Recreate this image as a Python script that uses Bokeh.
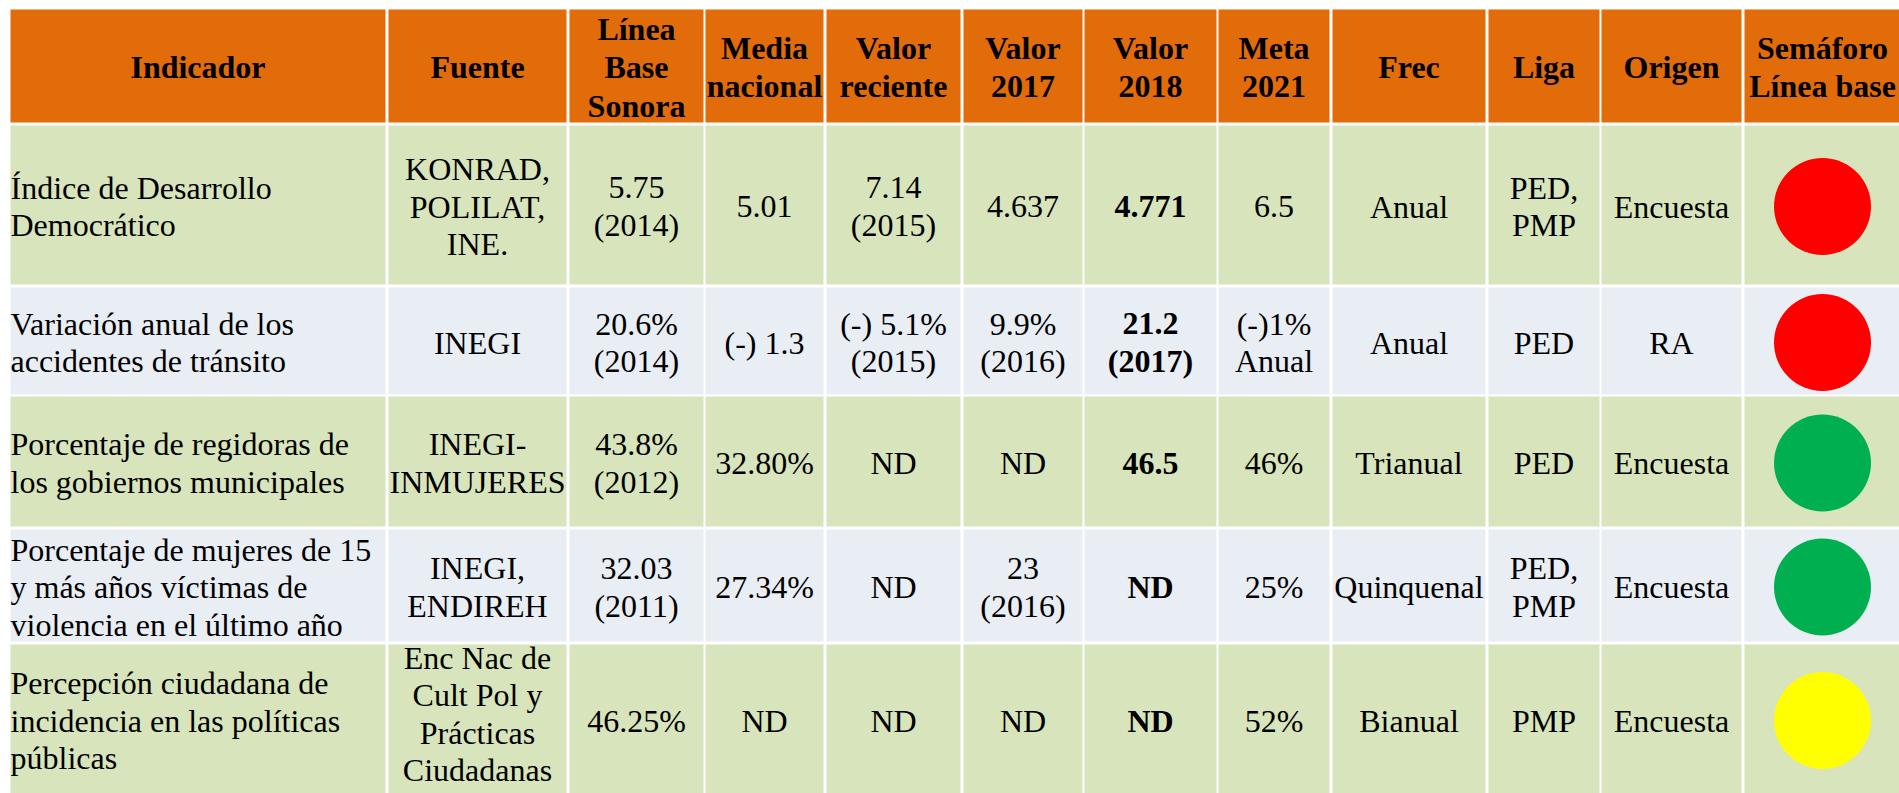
from bokeh.plotting import figure
from bokeh.models import Range1d, ColumnDataSource
from bokeh.core.properties import value
from bokeh.embed import file_html
from bokeh.resources import INLINE

# ---------------- data ----------------
headers = ["Indicador", "Fuente", "Línea\nBase\nSonora", "Media\nnacional",
           "Valor\nreciente", "Valor\n2017", "Valor\n2018", "Meta\n2021",
           "Frec", "Liga", "Origen", "Semáforo\nLínea base"]

indicador = ["Índice de Desarrollo\nDemocrático",
             "Variación anual de los\naccidentes de tránsito",
             "Porcentaje de regidoras de\nlos gobiernos municipales",
             "Porcentaje de mujeres de 15\ny más años víctimas de\nviolencia en el último año",
             "Percepción ciudadana de\nincidencia en las políticas\npúblicas"]
fuente = ["KONRAD,\nPOLILAT,\nINE.", "INEGI", "INEGI-\nINMUJERES", "INEGI,\nENDIREH",
          "Enc Nac de\nCult Pol y\nPrácticas\nCiudadanas"]
linea_base = ["5.75\n(2014)", "20.6%\n(2014)", "43.8%\n(2012)", "32.03\n(2011)", "46.25%"]
media_nacional = ["5.01", "(-) 1.3", "32.80%", "27.34%", "ND"]
valor_reciente = ["7.14\n(2015)", "(-) 5.1%\n(2015)", "ND", "ND", "ND"]
valor_2017 = ["4.637", "9.9%\n(2016)", "ND", "23\n(2016)", "ND"]
valor_2018 = ["4.771", "21.2\n(2017)", "46.5", "ND", "ND"]
meta_2021 = ["6.5", "(-)1%\nAnual", "46%", "25%", "52%"]
frec = ["Anual", "Anual", "Trianual", "Quinquenal", "Bianual"]
liga = ["PED,\nPMP", "PED", "PED", "PED,\nPMP", "PMP"]
origen = ["Encuesta", "RA", "Encuesta", "Encuesta", "Encuesta"]
semaforo = ["Rojo", "Rojo", "Verde", "Verde", "Amarillo"]

# ---------------- layout / style ----------------
SEM_COLORS = {"Rojo": "#FF0000", "Verde": "#00B050", "Amarillo": "#FFFF00"}
HEADER_FILL = "#E26B0A"
ROW_FILLS = ["#D8E4BC", "#E9EDF4"]
FONT = "Liberation Serif"
FS = 32
LINE_H = 37.5
HDR_LINE_H = 38.5

col_left = [10, 388, 569, 705, 826, 963, 1084, 1218, 1332, 1488, 1601, 1744]
col_right = [385, 566, 703, 823, 960, 1082, 1216, 1329, 1485, 1599, 1741, 1900]
row_top = [9, 125, 287, 396, 529, 644]
row_bot = [122, 284, 394, 526, 641, 793]

text_cols = [indicador, fuente, linea_base, media_nacional, valor_reciente,
             valor_2017, valor_2018, meta_2021, frec, liga, origen]
bold_col = 6

W, H = 1899, 793
p = figure(width=W, height=H, x_range=Range1d(0, W), y_range=Range1d(H, 0),
           x_axis_type=None, y_axis_type=None, toolbar_location=None,
           output_backend="svg", min_border=0, outline_line_color=None,
           background_fill_color="white", border_fill_color="white")
p.grid.visible = False

# cells
cl, cr, ct, cb, cf = [], [], [], [], []
for r in range(len(row_top)):
    fill = HEADER_FILL if r == 0 else ROW_FILLS[(r - 1) % 2]
    for c in range(len(col_left)):
        cl.append(col_left[c]); cr.append(col_right[c])
        ct.append(row_top[r]); cb.append(row_bot[r]); cf.append(fill)
p.quad(left="l", right="r", top="t", bottom="b", fill_color="f", line_color=None,
       source=ColumnDataSource(dict(l=cl, r=cr, t=ct, b=cb, f=cf)))

groups = {"hdr": dict(x=[], y=[], t=[]), "left": dict(x=[], y=[], t=[]),
          "center": dict(x=[], y=[], t=[]), "bold": dict(x=[], y=[], t=[])}

def add_lines(group, x, yc, txt, lh):
    lines = txt.split("\n")
    n = len(lines)
    # keep the whole text block inside the picture
    last = yc + (n - 1) / 2 * lh
    limit = H - FS * 0.72
    if last > limit:
        yc -= last - limit
    for i, ln in enumerate(lines):
        groups[group]["x"].append(x)
        groups[group]["y"].append(yc + (i - (n - 1) / 2) * lh)
        groups[group]["t"].append(ln)

hy = (row_top[0] + row_bot[0]) / 2 + 1
for c, h in enumerate(headers):
    add_lines("hdr", (col_left[c] + col_right[c]) / 2, hy, h, HDR_LINE_H)

for c, col in enumerate(text_cols):
    for r, txt in enumerate(col):
        yc = (row_top[r + 1] + row_bot[r + 1]) / 2 + 1.5
        if c == 0:
            add_lines("left", col_left[c], yc, txt, LINE_H)
        elif c == bold_col:
            add_lines("bold", (col_left[c] + col_right[c]) / 2, yc, txt, LINE_H)
        else:
            add_lines("center", (col_left[c] + col_right[c]) / 2, yc, txt, LINE_H)

for g, align, style in [("hdr", "center", "bold"), ("left", "left", "normal"),
                        ("center", "center", "normal"), ("bold", "center", "bold")]:
    p.text(x="x", y="y", text="t", source=ColumnDataSource(groups[g]),
           text_font=value(FONT), text_font_size=f"{FS}px", text_align=align,
           text_baseline="middle", text_font_style=style, text_color="black")

# semaphore circles
sx = [(col_left[11] + col_right[11]) / 2] * len(semaforo)
sy = [(row_top[r + 1] + row_bot[r + 1]) / 2 + 1.5 for r in range(len(semaforo))]
sc = [SEM_COLORS[s] for s in semaforo]
p.scatter(x="x", y="y", size=97, marker="circle", fill_color="c", line_color=None,
          source=ColumnDataSource(dict(x=sx, y=sy, c=sc)))

open("out.html", "w").write(file_html(p, INLINE))
